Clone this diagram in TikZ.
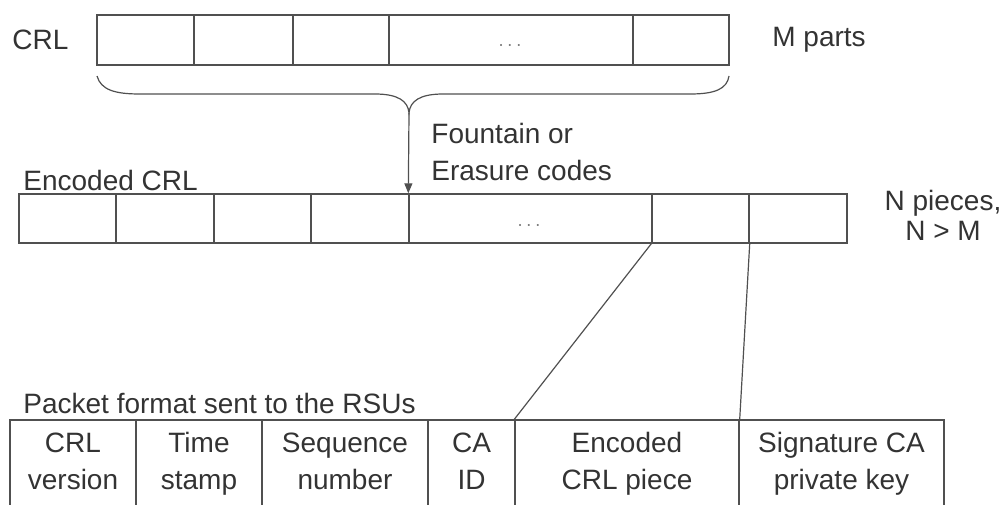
\documentclass[tikz,border=0pt]{standalone}
\usepackage{fontspec}
\setmainfont{Liberation Sans}
\usetikzlibrary{arrows.meta,fit}
\definecolor{ink}{HTML}{333333}
\definecolor{rule}{HTML}{505050}

\begin{document}
\begin{tikzpicture}[x=0.5pt,y=-0.5pt,
  cell/.style={draw=rule, line width=0.7pt, inner sep=0pt},
  lbl/.style={text=ink, inner sep=0pt, font=\fontsize{14}{18.5}\selectfont},
  celltext/.style={lbl, align=center},
  dots/.style={text=gray!90!black, inner sep=0pt, font=\fontsize{10}{11}\selectfont},
  link/.style={draw=rule, line width=0.6pt}]
\useasboundingbox (0,0) rectangle (1004,504);
\begin{scope}
\clip (0,0) rectangle (1004,504);

% CRL split into M parts
\node[lbl, anchor=west] (crl) at (12,40) {CRL};
\node[cell, fit={(97,15) (194,65)}] (c1) {};
\node[cell, fit={(194,15) (293,65)}] (c2) {};
\node[cell, fit={(293,15) (389,65)}] (c3) {};
\node[cell, fit={(389,15) (633,65)}] (c4) {};
\node[dots] (c4d) at (510,46) {$\cdots$};
\node[cell, fit={(633,15) (729,65)}] (c5) {};
\node[lbl, anchor=west] (mparts) at (772,40) {M parts};

% brace under the CRL
\coordinate (bl) at (97,76);
\coordinate (br) at (729,76);
\coordinate (bt) at (409,113);
\draw[link] (bl) .. controls (101,90) and (115,94) .. (140,94) -- (375,94)
  .. controls (398,94) and (408,101) .. (bt)
  .. controls (410,101) and (420,94) .. (443,94) -- (690,94)
  .. controls (715,94) and (727,89) .. (br);

% encoding step
\node[lbl, anchor=west, align=left] (codes) at (431,151.5) {Fountain or\\Erasure codes};

% encoded CRL in N pieces
\node[lbl, anchor=west] (enc) at (23,180) {Encoded CRL};
\node[cell, fit={(19,194) (116,243)}] (e1) {};
\node[cell, fit={(116,194) (214,243)}] (e2) {};
\node[cell, fit={(214,194) (311,243)}] (e3) {};
\node[cell, fit={(311,194) (409,243)}] (e4) {};
\node[cell, fit={(409,194) (652,243)}] (e5) {};
\node[dots] (e5d) at (529,226) {$\cdots$};
\node[cell, fit={(652,194) (749,243)}] (e6) {};
\node[cell, fit={(749,194) (847,243)}] (e7) {};
\node[lbl, align=center, font=\fontsize{14}{15}\selectfont] (npieces) at (943,215) {N pieces,\\N > M};

\draw[link, -{Triangle[width=4pt,length=5pt]}] (bt) -- (e5.north west);

% packet format
\node[lbl, anchor=west] (pkt) at (23,403) {Packet format sent to the RSUs};
\node[cell, fit={(10,420) (136,507)}] (p1) {};
\node[cell, fit={(136,420) (262,507)}] (p2) {};
\node[cell, fit={(262,420) (428,507)}] (p3) {};
\node[cell, fit={(428,420) (515,507)}] (p4) {};
\node[cell, fit={(515,420) (739,507)}] (p5) {};
\node[cell, fit={(739,420) (944,507)}] (p6) {};
\node[celltext] (p1t) at (p1.center) {CRL\strut\\version\strut};
\node[celltext] (p2t) at (p2.center) {Time\strut\\stamp\strut};
\node[celltext] (p3t) at (p3.center) {Sequence\strut\\number\strut};
\node[celltext] (p4t) at (p4.center) {CA\strut\\ID\strut};
\node[celltext] (p5t) at (p5.center) {Encoded\strut\\CRL piece\strut};
\node[celltext] (p6t) at (p6.center) {Signature CA\strut\\private key\strut};

% one encoded piece goes into the packet
\draw[link] (e6.south west) -- (p5.north west);
\draw[link] (e6.south east) -- (p5.north east);
\end{scope}
\end{tikzpicture}
\end{document}
